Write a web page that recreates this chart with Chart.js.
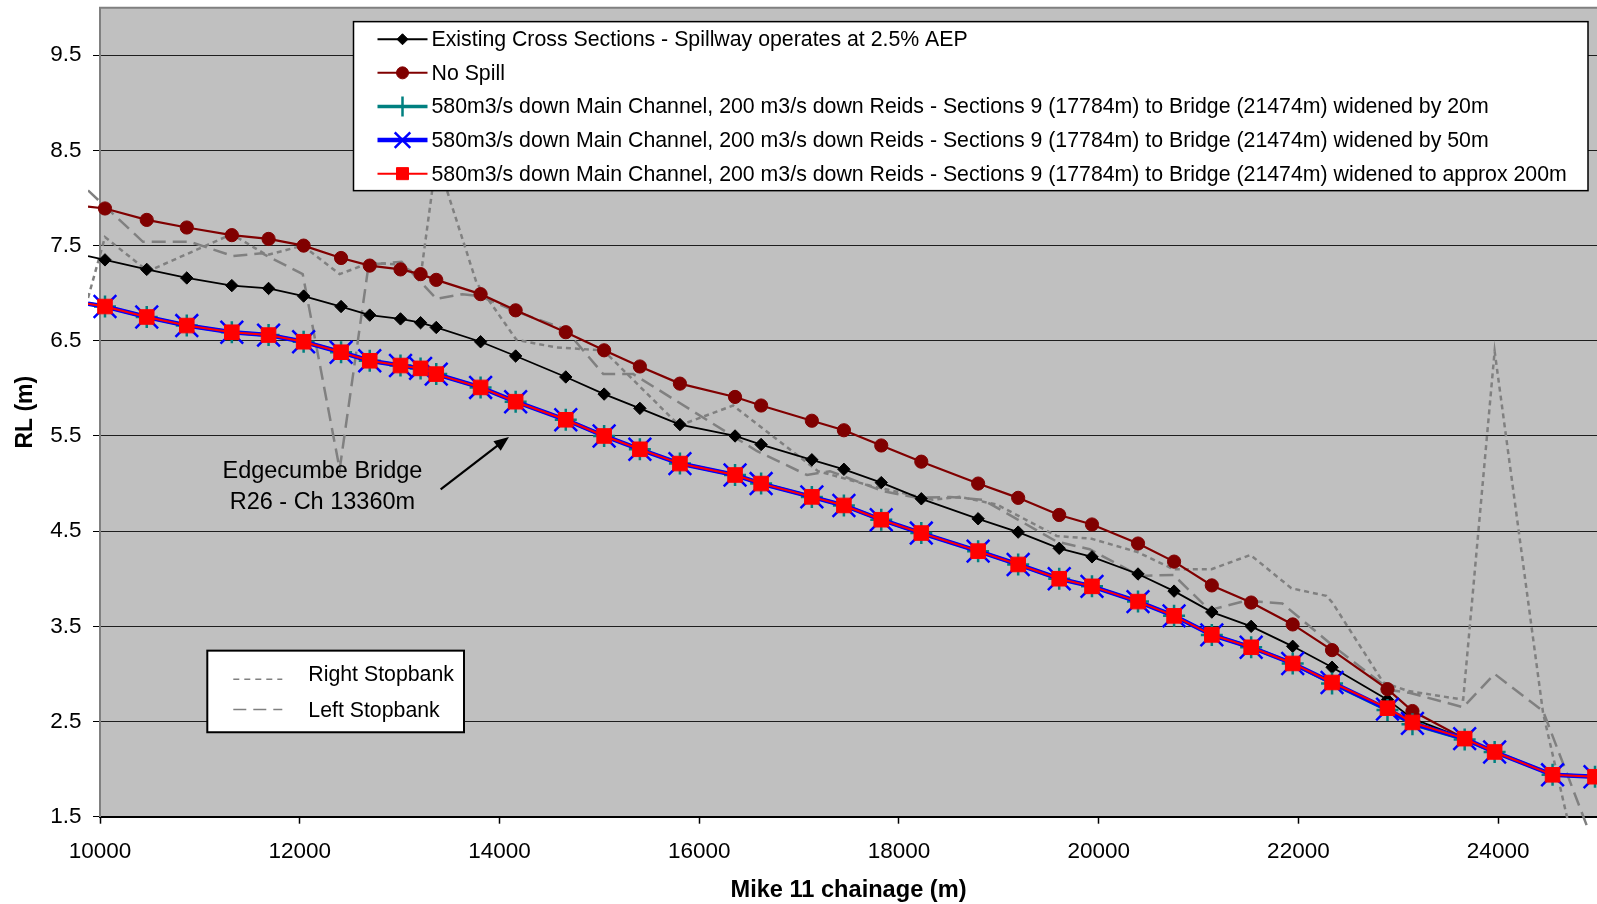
<!DOCTYPE html>
<html>
<head>
<meta charset="utf-8">
<title>Mike 11 chainage vs RL</title>
<script src="https://cdn.jsdelivr.net/npm/chart.js@4.4.1/dist/chart.umd.min.js"></script>
<style>
  html, body { margin: 0; padding: 0; background: #ffffff; }
  #wrap { position: relative; width: 1597px; height: 904px; }
</style>
</head>
<body>
<div id="wrap"><canvas id="grafik"></canvas></div>
<script>
// ---- data ----
// chainage of the model cross sections (m); first entry is the lead-in left of the axis
const sectionChainage = [9880, 10050, 10468, 10869, 11320, 11688, 12039, 12414, 12701, 13009,
  13210, 13367, 13811, 14162, 14664, 15048, 15406, 15807, 16359, 16620,
  17128, 17449, 17823, 18224, 18793, 19194, 19605, 19933, 20394, 20755,
  21133, 21527, 21943, 22337, 22892, 23142, 23665, 23965, 24545, 24970];

const existingRL = [7.39, 7.35, 7.25, 7.16, 7.08, 7.05, 6.97, 6.86, 6.77, 6.73,
  6.69, 6.64, 6.49, 6.34, 6.12, 5.94, 5.79, 5.62, 5.50, 5.41,
  5.25, 5.15, 5.01, 4.84, 4.63, 4.49, 4.32, 4.23, 4.05, 3.87,
  3.65, 3.50, 3.29, 3.07, 2.73, 2.53, 2.32, 2.18, 1.94, 1.92];

const noSpillRL = [7.91, 7.89, 7.77, 7.69, 7.61, 7.57, 7.50, 7.37, 7.29, 7.25,
  7.20, 7.14, 6.99, 6.82, 6.59, 6.40, 6.23, 6.05, 5.91, 5.82,
  5.66, 5.56, 5.40, 5.23, 5.00, 4.85, 4.67, 4.57, 4.37, 4.18,
  3.93, 3.75, 3.52, 3.25, 2.84, 2.61, 2.32, 2.18, 1.94, 1.92];

const widened20RL = [6.89, 6.86, 6.75, 6.66, 6.59, 6.56, 6.49, 6.38, 6.29, 6.24,
  6.21, 6.15, 6.01, 5.86, 5.67, 5.50, 5.36, 5.21, 5.09, 5.00,
  4.86, 4.77, 4.62, 4.48, 4.29, 4.15, 4.00, 3.92, 3.76, 3.61,
  3.41, 3.28, 3.11, 2.90, 2.62, 2.47, 2.31, 2.18, 1.94, 1.92];

const widened50RL = [6.89, 6.86, 6.75, 6.66, 6.59, 6.56, 6.49, 6.38, 6.29, 6.24,
  6.21, 6.15, 6.01, 5.86, 5.67, 5.50, 5.36, 5.21, 5.09, 5.00,
  4.86, 4.77, 4.62, 4.48, 4.29, 4.15, 4.00, 3.92, 3.76, 3.61,
  3.41, 3.28, 3.11, 2.91, 2.63, 2.48, 2.32, 2.18, 1.94, 1.92];

const widened200RL = [6.89, 6.86, 6.75, 6.66, 6.59, 6.56, 6.49, 6.38, 6.29, 6.24,
  6.21, 6.15, 6.01, 5.86, 5.67, 5.50, 5.36, 5.21, 5.09, 5.00,
  4.86, 4.77, 4.62, 4.48, 4.29, 4.15, 4.00, 3.92, 3.76, 3.61,
  3.41, 3.28, 3.11, 2.91, 2.64, 2.49, 2.32, 2.18, 1.94, 1.92];

// stopbank crest levels
const rightBankChainage = [9880, 10050, 10480, 11320, 11670, 12030, 12400, 12700, 13010, 13210,
  13370, 13770, 14170, 14570, 15040, 15800, 16340, 17190, 17740, 18340,
  18610, 18980, 19580, 19930, 20390, 20750, 21130, 21520, 21930, 22280,
  22340, 22850, 23100, 23650, 23965, 24450, 24700];
const rightBankRL = [6.95, 7.59, 7.23, 7.62, 7.40, 7.50, 7.20, 7.32, 7.30, 7.17,
  8.42, 7.11, 6.51, 6.43, 6.40, 5.61, 5.82, 5.13, 4.97, 4.83,
  4.86, 4.78, 4.45, 4.42, 4.28, 4.10, 4.10, 4.25, 3.90, 3.82,
  3.75, 2.91, 2.82, 2.73, 6.39, 2.59, 1.45];

const leftBankChainage = [9880, 10430, 10900, 11330, 11620, 12030, 12400, 12690, 13020, 13370,
  13630, 13800, 14160, 14660, 15040, 15340, 16580, 17080, 17310, 17840,
  18180, 18510, 18840, 19580, 19910, 20410, 20750, 21110, 21480, 21840,
  22340, 22920, 23120, 23650, 23965, 24450, 24890];
const leftBankRL = [8.08, 7.54, 7.54, 7.39, 7.42, 7.20, 5.15, 7.30, 7.33, 6.94,
  6.99, 6.97, 6.81, 6.62, 6.15, 6.15, 5.34, 5.09, 5.13, 4.92,
  4.85, 4.86, 4.83, 4.39, 4.31, 4.03, 4.04, 3.67, 3.77, 3.74,
  3.30, 2.83, 2.80, 2.65, 3.00, 2.61, 1.40];

const xTicks = [10000, 12000, 14000, 16000, 18000, 20000, 22000, 24000];
const yTicks = [1.5, 2.5, 3.5, 4.5, 5.5, 6.5, 7.5, 8.5, 9.5];

// annotation anchor points (chainage, RL)
const noteLines = ["Edgecumbe Bridge", "R26 - Ch 13360m"];
const notePos = [[12227, 5.13], [12227, 4.80]];
const arrowFrom = [13411, 4.94];
const arrowTo = [14095, 5.49];

const FONT = "'Liberation Sans', Arial, Helvetica, sans-serif";

function pairs(xs, ys) {
  return xs.map((x, i) => ({ x: x, y: ys[i] }));
}

// -------- marker drawing for the legends --------
function drawMarker(ctx, style, x, y, r, fill, stroke, lw) {
  ctx.save();
  ctx.beginPath();
  ctx.lineWidth = lw;
  ctx.strokeStyle = stroke;
  ctx.fillStyle = fill;
  if (style === "circle") {
    ctx.arc(x, y, r, 0, Math.PI * 2);
    ctx.fill(); ctx.stroke();
  } else if (style === "rectRot") {
    ctx.moveTo(x - r, y); ctx.lineTo(x, y - r); ctx.lineTo(x + r, y); ctx.lineTo(x, y + r);
    ctx.closePath(); ctx.fill(); ctx.stroke();
  } else if (style === "rect") {
    const s = r * Math.SQRT1_2;
    ctx.rect(x - s, y - s, 2 * s, 2 * s);
    ctx.fill(); ctx.stroke();
  } else if (style === "cross") {
    ctx.moveTo(x - r, y); ctx.lineTo(x + r, y);
    ctx.moveTo(x, y - r); ctx.lineTo(x, y + r);
    ctx.stroke();
  } else if (style === "crossRot") {
    const d = r * Math.SQRT1_2;
    ctx.moveTo(x - d, y - d); ctx.lineTo(x + d, y + d);
    ctx.moveTo(x - d, y + d); ctx.lineTo(x + d, y - d);
    ctx.stroke();
  }
  ctx.restore();
}

// plot background + frame
const plotFrame = {
  id: "plotFrame",
  beforeDraw(chart) {
    const { ctx, chartArea: a } = chart;
    ctx.save();
    ctx.fillStyle = "#c0c0c0";
    ctx.fillRect(a.left, a.top, a.right - a.left, a.bottom - a.top);
    ctx.restore();
  },
  afterDraw(chart) {
    const { ctx, chartArea: a } = chart;
    ctx.save();
    ctx.strokeStyle = "#808080";
    ctx.lineWidth = 2;
    ctx.beginPath();
    ctx.moveTo(a.left - 1, a.top);
    ctx.lineTo(a.right, a.top);
    ctx.stroke();
    ctx.restore();
  }
};

// legends + bridge note
const legendsAndNote = {
  id: "legendsAndNote",
  afterDatasetsDraw(chart) {
    const { ctx, chartArea: a } = chart;
    const xs = chart.scales.x, ys = chart.scales.y;
    const ds = chart.data.datasets;

    // ---- bridge note ----
    ctx.save();
    ctx.fillStyle = "#000";
    ctx.font = "23.5px " + FONT;
    ctx.textAlign = "center";
    ctx.textBaseline = "middle";
    noteLines.forEach((t, i) => {
      ctx.fillText(t, xs.getPixelForValue(notePos[i][0]), ys.getPixelForValue(notePos[i][1]));
    });
    const x0 = xs.getPixelForValue(arrowFrom[0]), y0 = ys.getPixelForValue(arrowFrom[1]);
    const x1 = xs.getPixelForValue(arrowTo[0]), y1 = ys.getPixelForValue(arrowTo[1]);
    const ang = Math.atan2(y1 - y0, x1 - x0);
    const headL = 15, headW = 6;
    ctx.strokeStyle = "#000";
    ctx.lineWidth = 2.2;
    ctx.beginPath();
    ctx.moveTo(x0, y0);
    ctx.lineTo(x1 - Math.cos(ang) * headL * 0.8, y1 - Math.sin(ang) * headL * 0.8);
    ctx.stroke();
    ctx.beginPath();
    ctx.moveTo(x1, y1);
    ctx.lineTo(x1 - Math.cos(ang) * headL - Math.sin(ang) * headW, y1 - Math.sin(ang) * headL + Math.cos(ang) * headW);
    ctx.lineTo(x1 - Math.cos(ang) * headL + Math.sin(ang) * headW, y1 - Math.sin(ang) * headL - Math.cos(ang) * headW);
    ctx.closePath();
    ctx.fill();
    ctx.restore();

    // ---- main legend ----
    const boxL = a.left + 253.5, boxT = a.top + 14, boxR = 1588, boxB = a.top + 183;
    ctx.save();
    ctx.fillStyle = "#fff";
    ctx.fillRect(boxL, boxT, boxR - boxL, boxB - boxT);
    ctx.strokeStyle = "#000";
    ctx.lineWidth = 1.5;
    ctx.strokeRect(boxL, boxT, boxR - boxL, boxB - boxT);
    const rowY0 = boxT + 17.6, rowStep = 33.6;
    const lineX0 = boxL + 24, lineX1 = boxL + 74, markX = boxL + 49, textX = boxL + 78;
    ctx.font = "21.3px " + FONT;
    ctx.textAlign = "left";
    ctx.textBaseline = "middle";
    ds.filter(d => d.legendBox === "main").forEach((d, i) => {
      const yy = rowY0 + i * rowStep;
      ctx.strokeStyle = d.borderColor;
      ctx.lineWidth = d.legendLineWidth;
      ctx.setLineDash([]);
      ctx.beginPath();
      ctx.moveTo(lineX0, yy);
      ctx.lineTo(lineX1, yy);
      ctx.stroke();
      drawMarker(ctx, d.pointStyle, markX, yy, d.legendMarkerRadius,
        d.pointBackgroundColor, d.pointBorderColor, d.pointBorderWidth);
      ctx.fillStyle = "#000";
      ctx.fillText(d.label, textX, yy + 1);
    });
    ctx.restore();

    // ---- stopbank legend ----
    const bL = a.left + 107.3, bT = a.top + 643, bR = a.left + 364, bB = a.top + 724.6;
    const textRowY = [24.5, 60], sampleRowY = [28.5, 58.8];
    ctx.save();
    ctx.fillStyle = "#fff";
    ctx.fillRect(bL, bT, bR - bL, bB - bT);
    ctx.strokeStyle = "#000";
    ctx.lineWidth = 2;
    ctx.strokeRect(bL, bT, bR - bL, bB - bT);
    ctx.font = "21.3px " + FONT;
    ctx.textAlign = "left";
    ctx.textBaseline = "middle";
    ds.filter(d => d.legendBox === "banks").forEach((d, i) => {
      ctx.strokeStyle = d.borderColor;
      ctx.lineWidth = 1.5;
      ctx.setLineDash(i === 0 ? [6, 5] : [13, 7]);
      ctx.beginPath();
      ctx.moveTo(bL + 26, bT + sampleRowY[i]);
      ctx.lineTo(bL + 75, bT + sampleRowY[i]);
      ctx.stroke();
      ctx.setLineDash([]);
      ctx.fillStyle = "#000";
      ctx.fillText(d.label, bL + 101, bT + textRowY[i]);
    });
    ctx.restore();
  }
};

const noLead = (r) => (ctx) => (ctx.dataIndex === 0 ? 0 : r);
const lineClip = { left: 12, top: 0, right: 6, bottom: 12 };

new Chart(document.getElementById("grafik"), {
  type: "line",
  data: {
    datasets: [
      {
        label: "Existing Cross Sections - Spillway operates at 2.5% AEP",
        data: pairs(sectionChainage, existingRL),
        borderColor: "#000000", borderWidth: 1.8,
        pointStyle: "rectRot", pointRadius: noLead(6.2),
        pointBackgroundColor: "#000000", pointBorderColor: "#000000", pointBorderWidth: 1,
        legendBox: "main", legendLineWidth: 2, legendMarkerRadius: 5.5,
        order: 4, clip: lineClip
      },
      {
        label: "No Spill",
        data: pairs(sectionChainage, noSpillRL),
        borderColor: "#800000", borderWidth: 2.2,
        pointStyle: "circle", pointRadius: noLead(6.6),
        pointBackgroundColor: "#800000", pointBorderColor: "#800000", pointBorderWidth: 1,
        legendBox: "main", legendLineWidth: 2, legendMarkerRadius: 6,
        order: 3, clip: lineClip
      },
      {
        label: "580m3/s down Main Channel, 200 m3/s down Reids - Sections 9 (17784m) to Bridge (21474m) widened by 20m",
        data: pairs(sectionChainage, widened20RL),
        borderColor: "#008080", borderWidth: 3.5,
        pointStyle: "cross", pointRadius: noLead(11),
        pointBackgroundColor: "#008080", pointBorderColor: "#008080", pointBorderWidth: 2.5,
        legendBox: "main", legendLineWidth: 3.5, legendMarkerRadius: 10,
        order: 2, clip: lineClip
      },
      {
        label: "580m3/s down Main Channel, 200 m3/s down Reids - Sections 9 (17784m) to Bridge (21474m) widened by 50m",
        data: pairs(sectionChainage, widened50RL),
        borderColor: "#0000ff", borderWidth: 4.5,
        pointStyle: "crossRot", pointRadius: noLead(16),
        pointBackgroundColor: "#0000ff", pointBorderColor: "#0000ff", pointBorderWidth: 2.5,
        legendBox: "main", legendLineWidth: 4.5, legendMarkerRadius: 11,
        order: 1, clip: lineClip
      },
      {
        label: "580m3/s down Main Channel, 200 m3/s down Reids - Sections 9 (17784m) to Bridge (21474m) widened to approx 200m",
        data: pairs(sectionChainage, widened200RL),
        borderColor: "#ff0000", borderWidth: 2,
        pointStyle: "rect", pointRadius: noLead(10.3),
        pointBackgroundColor: "#ff0000", pointBorderColor: "#ff0000", pointBorderWidth: 1,
        legendBox: "main", legendLineWidth: 2, legendMarkerRadius: 8.5,
        order: 0, clip: lineClip
      },
      {
        label: "Right Stopbank",
        data: pairs(rightBankChainage, rightBankRL),
        borderColor: "#808080", borderWidth: 2.5, borderDash: [5, 4],
        pointRadius: 0, legendBox: "banks",
        order: 5, clip: lineClip
      },
      {
        label: "Left Stopbank",
        data: pairs(leftBankChainage, leftBankRL),
        borderColor: "#808080", borderWidth: 2.5, borderDash: [14, 7],
        pointRadius: 0, legendBox: "banks",
        order: 6, clip: lineClip
      }
    ]
  },
  options: {
    responsive: true,
    maintainAspectRatio: false,
    devicePixelRatio: 1,
    animation: false,
    events: [],
    layout: { autoPadding: false, padding: { top: 7.65, left: 0, right: 0, bottom: 0 } },
    elements: { line: { tension: 0 } },
    plugins: {
      legend: { display: false },
      tooltip: { enabled: false }
    },
    scales: {
      x: {
        type: "linear",
        min: 10000,
        max: 24990,
        afterBuildTicks: (s) => { s.ticks = xTicks.map(v => ({ value: v })); },
        afterFit: (s) => { s.height = 87.3; s.paddingLeft = 0; s.paddingRight = 0; },
        grid: { drawOnChartArea: false, drawTicks: true, tickLength: 7, tickColor: "#000", tickWidth: 1.5 },
        border: { display: true, color: "#000", width: 2 },
        ticks: {
          color: "#000",
          font: { family: FONT, size: 22.5 },
          padding: 15,
          maxRotation: 0,
          autoSkip: false,
          callback: (v) => String(v)
        },
        title: {
          display: true,
          text: "Mike 11 chainage (m)",
          color: "#000",
          font: { family: FONT, size: 23.6, weight: "bold" },
          padding: { top: 0, bottom: -1 }
        }
      },
      y: {
        type: "linear",
        min: 1.5,
        max: 10,
        afterBuildTicks: (s) => { s.ticks = yTicks.map(v => ({ value: v })); },
        afterFit: (s) => { s.width = 100; s.paddingTop = 0; s.paddingBottom = 0; },
        grid: { color: "#1e1e1e", lineWidth: 1, drawTicks: true, tickLength: 7, tickColor: "#000" },
        border: { display: true, color: "#808080", width: 2 },
        ticks: {
          color: "#000",
          font: { family: FONT, size: 22.5 },
          padding: 11.5,
          callback: (v) => Number(v).toFixed(1)
        },
        title: {
          display: true,
          text: "RL (m)",
          color: "#000",
          font: { family: FONT, size: 23, weight: "bold" },
          padding: { top: 12, bottom: 0 }
        }
      }
    }
  },
  plugins: [plotFrame, legendsAndNote]
});
</script>
</body>
</html>
